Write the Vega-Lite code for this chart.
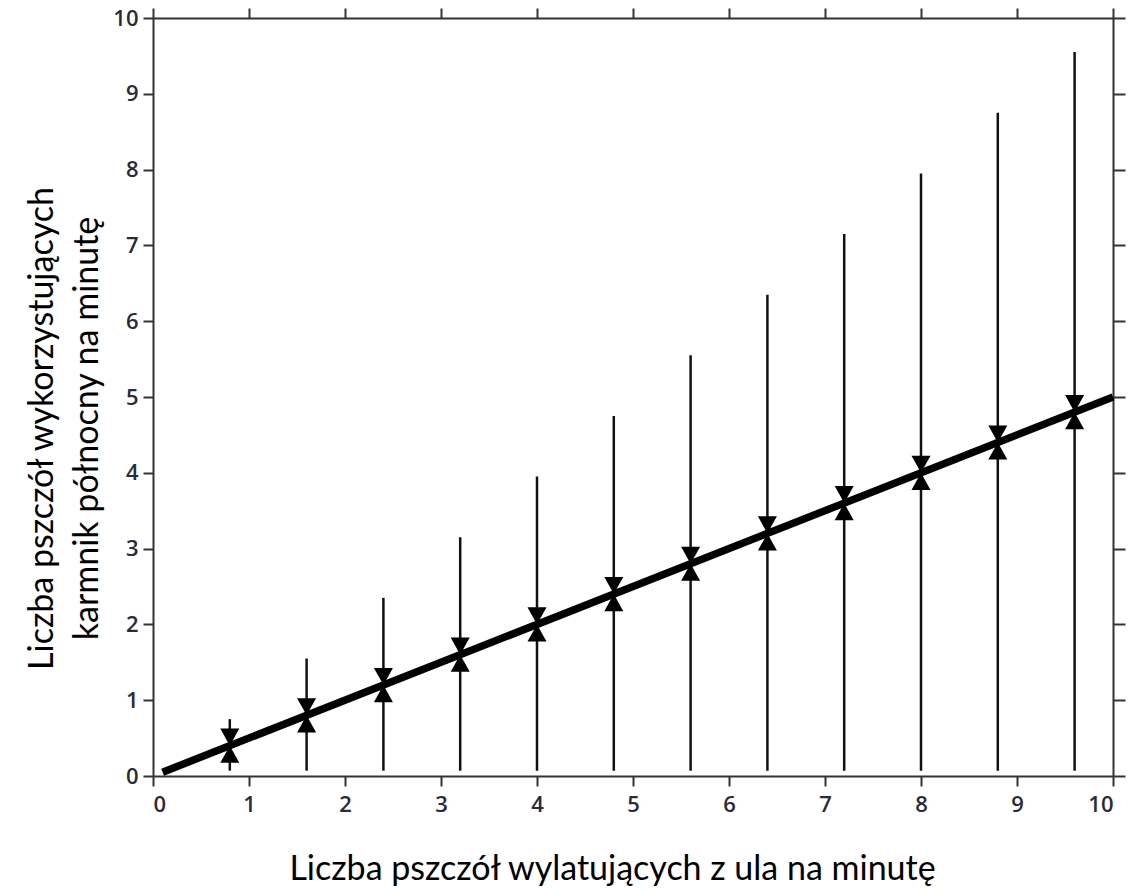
{
  "$schema": "https://vega.github.io/schema/vega-lite/v6.json",
  "width": 960,
  "height": 758,
  "autosize": "none",
  "padding": {"left": 153, "top": 18, "right": 21, "bottom": 116},
  "background": "white",
  "config": {
    "view": {"stroke": null},
    "axis": {
      "grid": false,
      "domainColor": "#333333",
      "domainWidth": 2,
      "tickColor": "#333333",
      "tickWidth": 2,
      "tickSize": 10,
      "labelFont": "Open Sans",
      "labelFontSize": 22,
      "labelFontWeight": 600,
      "labelColor": "#2a2a3a",
      "titleFont": "Lato",
      "titleFontSize": 34,
      "titleFontWeight": "normal",
      "titleColor": "#000000"
    }
  },
  "datasets": {
    "pts": [
      {"x": 0.8, "y": 0.4, "lo": 0.07, "hi": 0.75},
      {"x": 1.6, "y": 0.8, "lo": 0.07, "hi": 1.55},
      {"x": 2.4, "y": 1.2, "lo": 0.07, "hi": 2.35},
      {"x": 3.2, "y": 1.6, "lo": 0.07, "hi": 3.15},
      {"x": 4.0, "y": 2.0, "lo": 0.07, "hi": 3.95},
      {"x": 4.8, "y": 2.4, "lo": 0.07, "hi": 4.75},
      {"x": 5.6, "y": 2.8, "lo": 0.07, "hi": 5.55},
      {"x": 6.4, "y": 3.2, "lo": 0.07, "hi": 6.35},
      {"x": 7.2, "y": 3.6, "lo": 0.07, "hi": 7.15},
      {"x": 8.0, "y": 4.0, "lo": 0.07, "hi": 7.95},
      {"x": 8.8, "y": 4.4, "lo": 0.07, "hi": 8.75},
      {"x": 9.6, "y": 4.8, "lo": 0.07, "hi": 9.55}
    ],
    "fit": [
      {"x": 0.1, "y": 0.05},
      {"x": 10, "y": 5}
    ]
  },
  "layer": [
    {
      "data": {"name": "pts"},
      "mark": {"type": "rule", "color": "#111111", "strokeWidth": 2.5},
      "encoding": {
        "x": {
          "field": "x", "type": "quantitative",
          "scale": {"domain": [0, 10], "nice": false, "zero": false},
          "axis": {
            "orient": "bottom",
            "values": [0, 1, 2, 3, 4, 5, 6, 7, 8, 9, 10],
            "format": "d",
            "labelPadding": 8,
            "title": "Liczba pszczół wylatujących z ula na minutę",
            "titleX": 459,
            "titleY": 103,
            "titleAnchor": null,
            "titleAlign": "center",
            "titleBaseline": "alphabetic"
          }
        },
        "y": {
          "field": "lo", "type": "quantitative",
          "scale": {"domain": [0, 10], "nice": false, "zero": false},
          "axis": {
            "orient": "left",
            "values": [0, 1, 2, 3, 4, 5, 6, 7, 8, 9, 10],
            "format": "d",
            "labelPadding": 5,
            "title": ["Liczba pszczół wykorzystujących", "karmnik północny na minutę"],
            "titleAngle": -90,
            "titleX": -101,
            "titleY": 410,
            "titleAlign": "center",
            "titleBaseline": "alphabetic",
            "titleLineHeight": 45
          }
        },
        "y2": {"field": "hi"}
      }
    },
    {
      "data": {"name": "fit"},
      "mark": {"type": "line", "color": "#000000", "strokeWidth": 7.5, "strokeCap": "butt"},
      "encoding": {
        "x": {"field": "x", "type": "quantitative", "axis": null},
        "y": {"field": "y", "type": "quantitative", "axis": null}
      }
    },
    {
      "data": {"name": "pts"},
      "mark": {"type": "point", "shape": "M-1,-1.8L1,-1.8L0,0Z", "size": 361, "filled": true, "color": "#000000", "opacity": 1},
      "encoding": {
        "x": {"field": "x", "type": "quantitative", "axis": null},
        "y": {"field": "y", "type": "quantitative", "axis": null}
      }
    },
    {
      "data": {"name": "pts"},
      "mark": {"type": "point", "shape": "M-1,1.8L1,1.8L0,0Z", "size": 361, "filled": true, "color": "#000000", "opacity": 1},
      "encoding": {
        "x": {"field": "x", "type": "quantitative", "axis": null},
        "y": {"field": "y", "type": "quantitative", "axis": null}
      }
    },
    {
      "data": {"name": "pts"},
      "mark": {"type": "rule", "opacity": 0},
      "encoding": {
        "x": {
          "field": "x", "type": "quantitative",
          "axis": {"orient": "top", "values": [0, 1, 2, 3, 4, 5, 6, 7, 8, 9, 10], "labels": false, "title": null}
        },
        "y": {
          "field": "lo", "type": "quantitative",
          "axis": {"orient": "right", "values": [0, 1, 2, 3, 4, 5, 6, 7, 8, 9, 10], "labels": false, "title": null, "tickSize": 12}
        },
        "y2": {"field": "hi"}
      }
    }
  ],
  "resolve": {"axis": {"x": "independent", "y": "independent"}}
}
